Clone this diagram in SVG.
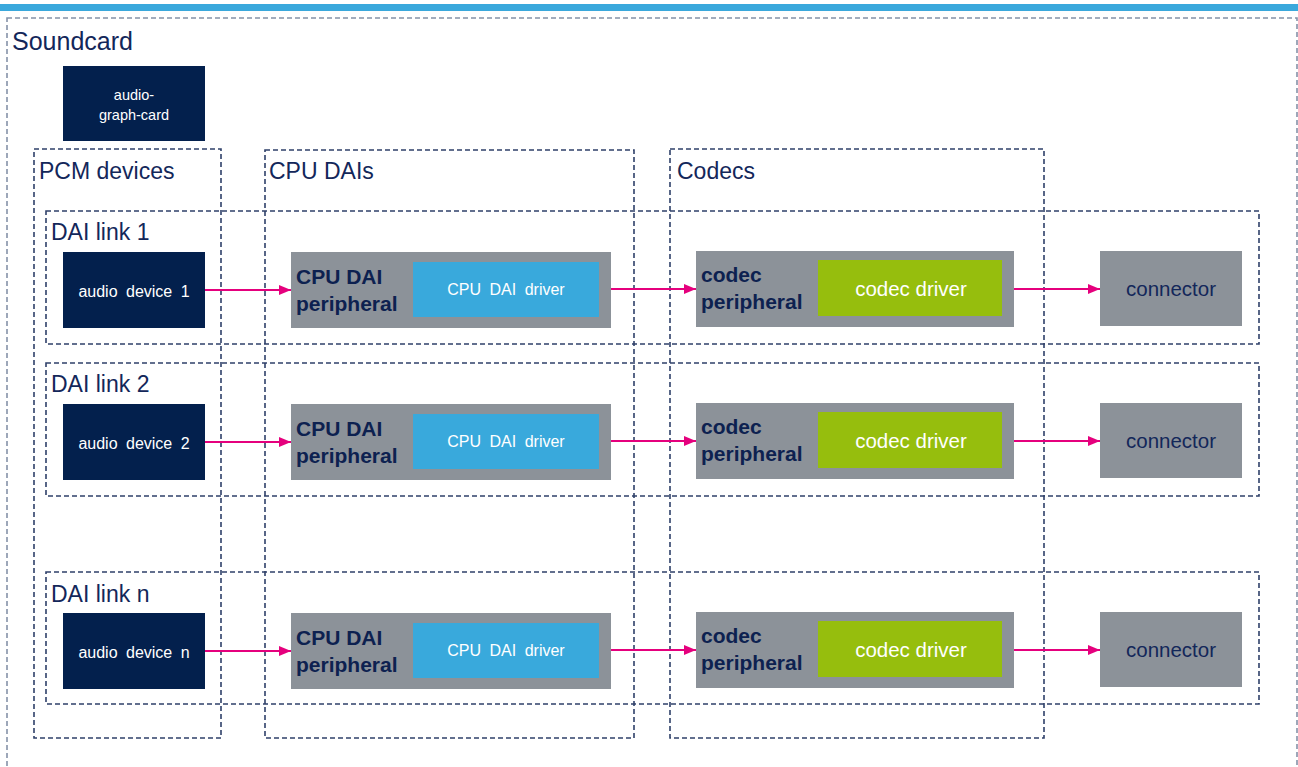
<svg xmlns="http://www.w3.org/2000/svg" width="1298" height="767" viewBox="0 0 1298 767">
<defs>
<style>
.dash{fill:none;stroke:#2f4069;stroke-width:1.6;stroke-dasharray:5 3}
.outer{fill:none;stroke:#8592a8;stroke-width:1.6;stroke-dasharray:5 3}
.lbl{font-family:"Liberation Sans",Arial,sans-serif;font-size:23px;fill:#13275a}
.navy{fill:#03204d}
.wt{font-family:"Liberation Sans",Arial,sans-serif;font-size:16px;fill:#ffffff;text-anchor:middle;word-spacing:4px}
.gray{fill:#8c9299}
.bold{font-family:"Liberation Sans",Arial,sans-serif;font-size:21px;font-weight:bold;fill:#0d2150}
.blue{fill:#39a9dc}
.green{fill:#96be0d}
.drv{font-family:"Liberation Sans",Arial,sans-serif;font-size:20.5px;fill:#ffffff;text-anchor:middle}
.con{font-family:"Liberation Sans",Arial,sans-serif;font-size:20.5px;fill:#13275a;text-anchor:middle}
.arrow{stroke:#e5007d;stroke-width:2;fill:none;marker-end:url(#ah)}
</style>
<marker id="ah" markerWidth="12" markerHeight="10" refX="12" refY="5" orient="auto" markerUnits="userSpaceOnUse">
<path d="M0,0 L12,5 L0,10 Z" fill="#e5007d"/>
</marker>
</defs>
<rect x="0" y="4" width="1298" height="7" fill="#3aa8dc"/>
<g id="soundcard">
<rect class="outer" x="7" y="18" width="1290" height="780"/>
<text class="lbl" x="12" y="50" style="font-size:25px">Soundcard</text>
</g>
<g id="pcm-devices">
<rect class="dash" x="34" y="149" width="187" height="589"/>
<text class="lbl" x="39" y="179">PCM devices</text>
</g>
<g id="cpu-dais">
<rect class="dash" x="265" y="150" width="369" height="588"/>
<text class="lbl" x="269" y="179">CPU DAIs</text>
</g>
<g id="codecs">
<rect class="dash" x="670" y="149" width="374" height="589"/>
<text class="lbl" x="677" y="179">Codecs</text>
</g>
<g id="dai-link-1">
<rect class="dash" x="46" y="211" width="1213" height="133"/>
<text class="lbl" x="51" y="240">DAI link 1</text>
</g>
<g id="dai-link-2">
<rect class="dash" x="46" y="363" width="1213" height="133"/>
<text class="lbl" x="51" y="392">DAI link 2</text>
</g>
<g id="dai-link-n">
<rect class="dash" x="46" y="572" width="1213" height="132"/>
<text class="lbl" x="51" y="602">DAI link n</text>
</g>
<g id="audio-graph-card">
<rect class="navy" x="63" y="66" width="142" height="75"/>
<text class="wt" x="134" y="100" style="font-size:14.5px">audio-</text>
<text class="wt" x="134" y="120" style="font-size:14.5px">graph-card</text>
</g>
<g id="audio-device-1">
<rect class="navy" x="63" y="252" width="142" height="76"/>
<text class="wt" x="134" y="297">audio device 1</text>
</g>
<g id="cpu-dai-peripheral-1">
<rect class="gray" x="291" y="252" width="320" height="76"/>
<text class="bold" x="296" y="284">CPU DAI</text>
<text class="bold" x="296" y="311">peripheral</text>
</g>
<g id="cpu-dai-driver-1">
<rect class="blue" x="413" y="262" width="186" height="55"/>
<text class="wt" x="506" y="295">CPU DAI driver</text>
</g>
<g id="codec-peripheral-1">
<rect class="gray" x="696" y="251" width="318" height="76"/>
<text class="bold" x="701" y="282">codec</text>
<text class="bold" x="701" y="309">peripheral</text>
</g>
<g id="codec-driver-1">
<rect class="green" x="818" y="260" width="184" height="56"/>
<text class="drv" x="911" y="296">codec driver</text>
</g>
<g id="connector-1">
<rect class="gray" x="1100" y="251" width="142" height="75"/>
<text class="con" x="1171" y="296">connector</text>
</g>
<g id="audio-device-2">
<rect class="navy" x="63" y="404" width="142" height="76"/>
<text class="wt" x="134" y="449">audio device 2</text>
</g>
<g id="cpu-dai-peripheral-2">
<rect class="gray" x="291" y="404" width="320" height="76"/>
<text class="bold" x="296" y="436">CPU DAI</text>
<text class="bold" x="296" y="463">peripheral</text>
</g>
<g id="cpu-dai-driver-2">
<rect class="blue" x="413" y="414" width="186" height="55"/>
<text class="wt" x="506" y="447">CPU DAI driver</text>
</g>
<g id="codec-peripheral-2">
<rect class="gray" x="696" y="403" width="318" height="76"/>
<text class="bold" x="701" y="434">codec</text>
<text class="bold" x="701" y="461">peripheral</text>
</g>
<g id="codec-driver-2">
<rect class="green" x="818" y="412" width="184" height="56"/>
<text class="drv" x="911" y="448">codec driver</text>
</g>
<g id="connector-2">
<rect class="gray" x="1100" y="403" width="142" height="75"/>
<text class="con" x="1171" y="448">connector</text>
</g>
<g id="audio-device-n">
<rect class="navy" x="63" y="613" width="142" height="76"/>
<text class="wt" x="134" y="658">audio device n</text>
</g>
<g id="cpu-dai-peripheral-n">
<rect class="gray" x="291" y="613" width="320" height="76"/>
<text class="bold" x="296" y="645">CPU DAI</text>
<text class="bold" x="296" y="672">peripheral</text>
</g>
<g id="cpu-dai-driver-n">
<rect class="blue" x="413" y="623" width="186" height="55"/>
<text class="wt" x="506" y="656">CPU DAI driver</text>
</g>
<g id="codec-peripheral-n">
<rect class="gray" x="696" y="612" width="318" height="76"/>
<text class="bold" x="701" y="643">codec</text>
<text class="bold" x="701" y="670">peripheral</text>
</g>
<g id="codec-driver-n">
<rect class="green" x="818" y="621" width="184" height="56"/>
<text class="drv" x="911" y="657">codec driver</text>
</g>
<g id="connector-n">
<rect class="gray" x="1100" y="612" width="142" height="75"/>
<text class="con" x="1171" y="657">connector</text>
</g>
<g id="connectors">
<line class="arrow" x1="205" y1="290" x2="291" y2="290"/>
<line class="arrow" x1="611" y1="289" x2="696" y2="289"/>
<line class="arrow" x1="1014" y1="289" x2="1100" y2="289"/>
<line class="arrow" x1="205" y1="442" x2="291" y2="442"/>
<line class="arrow" x1="611" y1="441" x2="696" y2="441"/>
<line class="arrow" x1="1014" y1="441" x2="1100" y2="441"/>
<line class="arrow" x1="205" y1="651" x2="291" y2="651"/>
<line class="arrow" x1="611" y1="650" x2="696" y2="650"/>
<line class="arrow" x1="1014" y1="650" x2="1100" y2="650"/>
</g>
</svg>
